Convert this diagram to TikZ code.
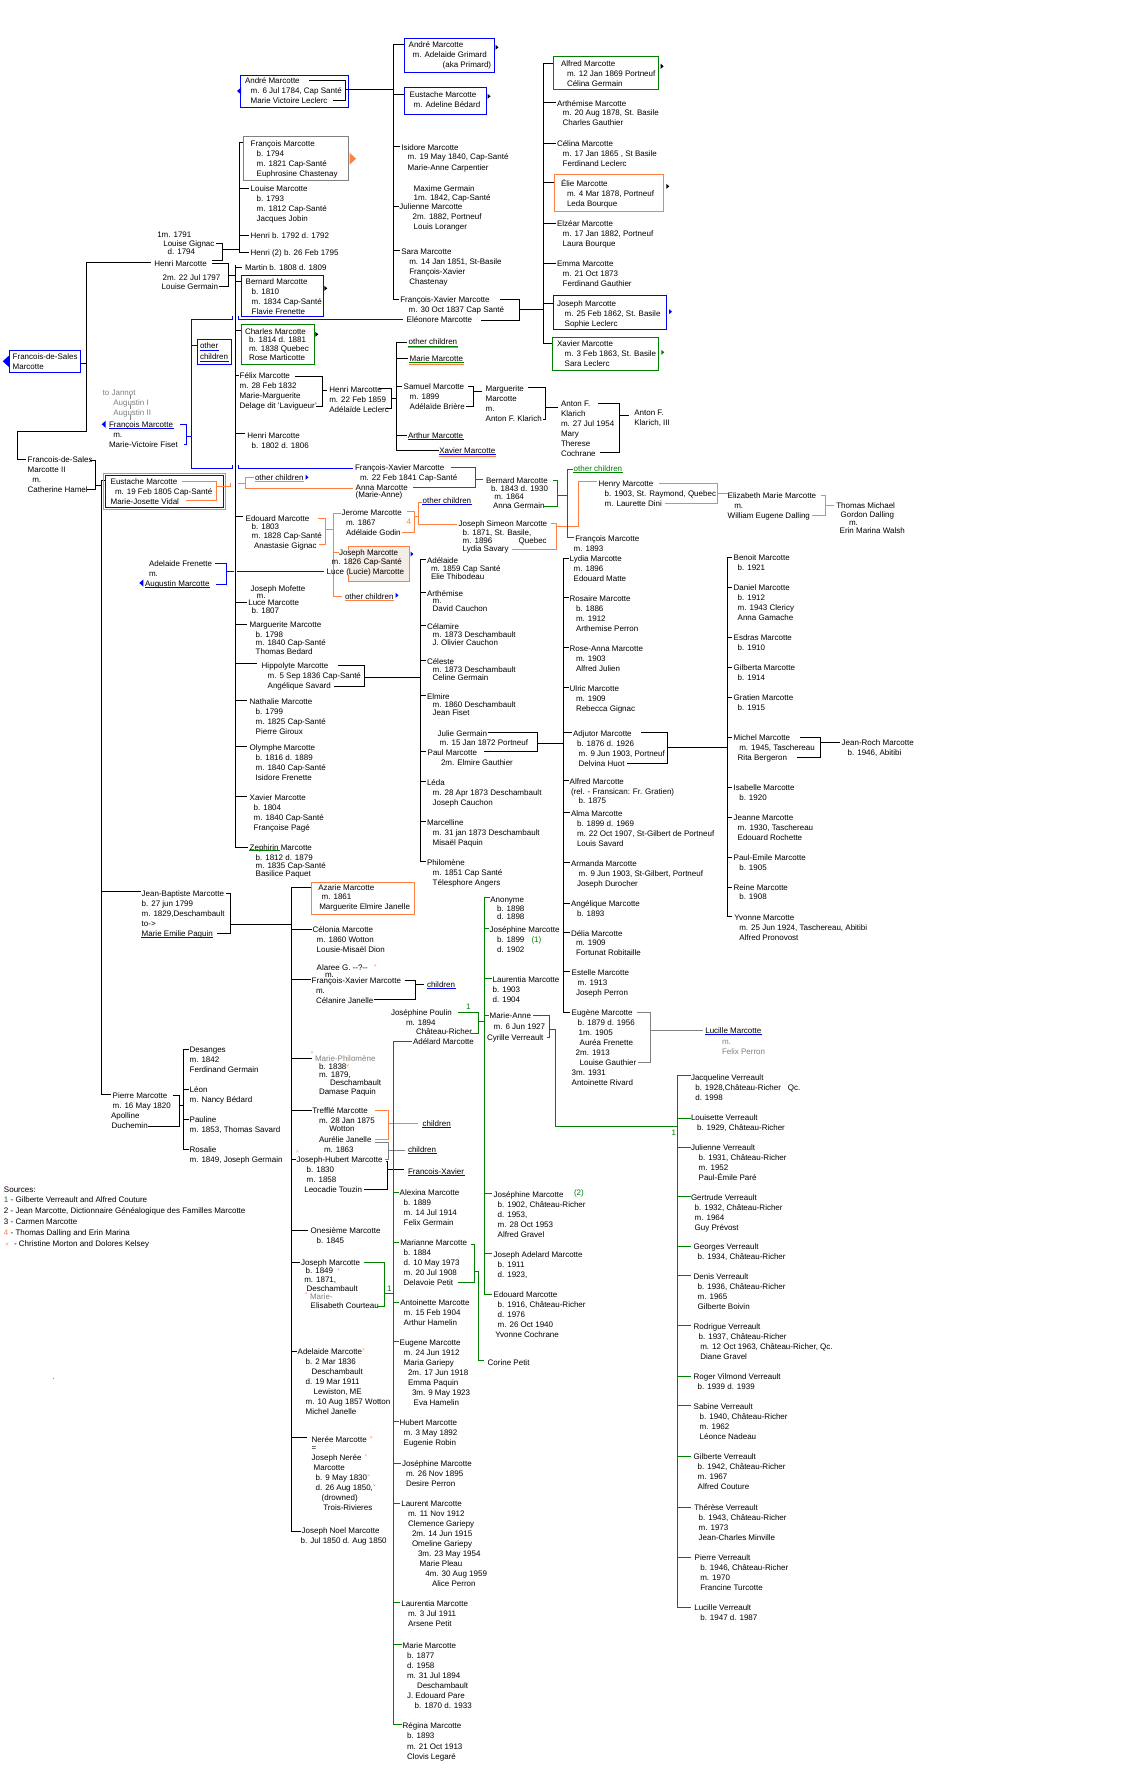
\documentclass[tikz,border=0pt]{standalone}
\usepackage{fontspec}
\setmainfont{Liberation Sans}
\definecolor{bl}{RGB}{0,0,255}
\definecolor{gr}{RGB}{0,128,0}
\definecolor{or}{RGB}{255,128,64}
\definecolor{gy}{RGB}{128,128,128}
\definecolor{bgc}{RGB}{244,236,230}
\newcommand\I[1]{\hspace*{#1pt}}
\newcommand\FS{\rule{0pt}{8pt}}
\newcommand\xx{\raisebox{2.5pt}{\fontsize{5}{5}\selectfont\color{or}×}}
\newcommand\ul[2][bl]{\draw[#1] ([yshift=-1.5pt]#2.base west) -- ([yshift=-1.5pt]#2.base east);}
\newcommand\ulb[2][or]{\draw[#1] ([yshift=-3pt]#2.base west) -- ([yshift=-3pt]#2.base east);}
\newcommand\ra[3][black]{\fill[#1] (#2,#3-2.5) -- (#2+3,#3) -- (#2,#3+2.5) -- cycle;}
\newcommand\la[3][bl]{\fill[#1] (#2,#3) -- (#2+4,#3-3.5) -- (#2+4,#3+3.5) -- cycle;}
\begin{document}
\begin{tikzpicture}[x=1pt,y=-1pt,line width=1pt,line cap=rect,
 t/.style={anchor=north west,inner sep=0pt,outer sep=0pt,align=left,font=\fontsize{8}{10}\selectfont,yshift=5pt,execute at begin node={\FS}},
 ls/.style={font=\fontsize{8}{#1}\selectfont}]
\fill[white] (0,0) rectangle (1146,1782);
\useasboundingbox (0,0) rectangle (1146,1782);

% ===== top: André and F-X
\draw[bl] (240,75.3) rectangle (348.3,107.3);
\node[t] (andreA) at (245,81) {\FS André Marcotte\\\I{5.7}m. 6 Jul 1784, Cap Santé\\\I{5.7}Marie Victoire Leclerc};
\draw (309,81) -- (345.7,81) -- (345.7,101) -- (333,101);
\draw (345.7,89.3) -- (393.7,89.3);
\la{237}{91}
\draw (393.7,45) -- (393.7,299);
\foreach \y/\e in {45/404.3,95/404.3,146/399,206/398,250/399,299/398} \draw (393.7,\y) -- (\e,\y);
\draw[bl] (404.3,38.3) rectangle (494.7,72.3);
\node[t] (andreB) at (408.7,45) {\FS André Marcotte\\\I{4}m.  Adelaide Grimard\\\I{34}(aka Primard)};
\ra{495.5}{47.3}
\draw[bl] (404.3,87.3) rectangle (486.3,114.3);
\node[t] (eustA) at (409.7,95) {\FS Eustache Marcotte\\\I{4}m. Adeline Bédard};
\ra{487.5}{96.3}
\node[t] (isid) at (401.3,147) {\FS Isidore Marcotte\\\I{6.4}m. 19 May 1840, Cap-Santé\\\I{6.4}Marie-Anne Carpentier};
\node[t] (jul) at (399.3,188) {\FS\I{14.4}Maxime Germain\\[-1pt]\I{14.4}1m. 1842, Cap-Santé\\[-1pt]Julienne Marcotte\\\I{13.4}2m. 1882, Portneuf\\\I{14.4}Louis Loranger};
\node[t] (sara) at (401.3,251) {\FS Sara Marcotte\\\I{8}m. 14 Jan 1851, St-Basile\\\I{8}François-Xavier\\\I{8}Chastenay};
\node[t] (fxe) at (400.3,299) {\FS François-Xavier Marcotte\\\I{8.4}m. 30 Oct 1837 Cap Santé\\\I{6.4}Eléonore Marcotte};
\draw (500.3,299) -- (519.3,299) -- (519.3,320.3) -- (481.3,320.3);
\draw (519.3,309) -- (543.3,309);
% children of FX and Eleonore
\draw (543.3,63.3) -- (543.3,343.3);
\foreach \y/\e in {63.3/553,102.7/555,143/555,182.3/554.3,223/555,263/555,303.3/553,343.3/552.3} \draw (543.3,\y) -- (\e,\y);
\draw[gr] (553,56.7) rectangle (658.7,89.3);
\node[t] (alfA) at (561,63.3) {\FS Alfred Marcotte\\\I{6}m. 12 Jan 1869 Portneuf\\\I{6}Célina Germain};
\ra{660.7}{66.3}
\node[t] (arthA) at (557,103) {\FS Arthémise Marcotte\\\I{5.7}m. 20 Aug 1878, St. Basile\\\I{5.7}Charles Gauthier};
\node[t] (celA) at (557,143) {\FS Célina Marcotte\\\I{5.7}m.  17 Jan 1865 , St Basile\\\I{5.7}Ferdinand Leclerc};
\draw[or] (554.3,174.3) rectangle (663.7,211.3);
\node[t] (elie) at (561,183) {\FS Élie Marcotte\\\I{6}m.  4 Mar 1878, Portneuf\\\I{6}Leda Bourque};
\ra{666.3}{186.3}
\node[t] (elz) at (557,223) {\FS Elzéar Marcotte\\\I{5.7}m. 17 Jan 1882, Portneuf\\\I{5.7}Laura Bourque};
\node[t] (emma) at (557,263) {\FS Emma Marcotte\\\I{5.7}m.  21 Oct 1873\\\I{5.7}Ferdinand Gauthier};
\draw[bl] (553,295.3) rectangle (666.3,329.3);
\node[t] (josA) at (557,303) {\FS Joseph Marcotte\\\I{7.7}m.  25 Feb 1862, St. Basile\\\I{7.7}Sophie Leclerc};
\ra[bl]{669}{311.7}
\draw[gr] (552.3,337.3) rectangle (658.7,370);
\node[t] (xavA) at (557,343) {\FS Xavier Marcotte\\\I{7.7}m. 3 Feb 1863, St. Basile\\\I{7.7}Sara Leclerc};
\ra[gr]{661.3}{352.3}

% ===== Henri Marcotte
\node[t] (gign) at (157.3,234) {\FS 1m. 1791\\[-0.7pt]\I{6}Louise Gignac\\[-2.3pt]\I{10.4}d. 1794};
\draw (216.7,243.3) -- (222.3,243.3) -- (222.3,260) -- (212.7,260);
\draw (222.3,249) -- (239.3,249);
\draw (239.3,142.7) -- (239.3,252.3);
\foreach \y/\e in {142.7/243.3,188.3/248,235/248,252.3/248} \draw (239.3,\y) -- (\e,\y);
\draw[gy] (243.3,136.3) rectangle (348.3,180.3);
\node[t] (franA) at (250.7,143.3) {\FS François Marcotte\\\I{6}b. 1794\\\I{6}m. 1821 Cap-Santé\\\I{6}Euphrosine Chastenay};
\fill[or] (349.5,152.7) -- (356,158.7) -- (349.5,164.7) -- cycle;
\node[t] (louA) at (250.7,188.3) {\FS Louise Marcotte\\\I{6}b. 1793\\\I{6}m. 1812 Cap-Santé\\\I{6}Jacques Jobin};
\node[t] (henA) at (250.7,235) {\FS Henri b. 1792 d. 1792};
\node[t] (henB) at (250.7,252) {\FS Henri (2)  b. 26 Feb 1795};
\node[t] (henri) at (154.3,263) {\FS Henri Marcotte};
\draw (86.7,262.7) -- (150.7,262.7);
\node[t] (germ) at (161.7,277) {\FS\I{1}2m. 22 Jul 1797\\[-0.7pt]Louise Germain};
\draw (212.7,263.3) -- (228.7,263.3) -- (228.7,286.3) -- (219,286.3);
\draw (228.7,275) -- (235.3,275);
% trunk of second marriage
\draw (235.3,265.7) -- (235.3,847.3);
\foreach \y/\e in {267.7/241,281/241.3,330.3/241,375/238,433.7/244,516.7/242,602/246,624/246,663.3/256.7,700.3/246,746/246,796/246,847.3/247} \draw (235.3,\y) -- (\e,\y);
\node[t] (mart) at (245,267.7) {\FS Martin  b. 1808  d. 1809};
\draw[bl] (241.3,275.3) rectangle (323.3,316.3);
\node[t] (bernA) at (245.7,281) {\FS Bernard Marcotte\\\I{6}b. 1810\\\I{6}m. 1834 Cap-Santé\\\I{6}Flavie Frenette};
\ra{324.3}{288.3}
\draw[gr] (241,324.3) rectangle (314.3,364.3);
\node[t,ls=8.7] (charl) at (245,331) {\FS Charles Marcotte\\\I{4}b. 1814  d. 1881\\\I{4}m. 1838 Quebec\\\I{4}Rose Marticotte};
\ra{315.3}{334.3}
\draw[bl] (197.7,339.3) rectangle (231.3,364.3);
\node[t] (oc1) at (200,345.7) {\FS other};
\node[t] (oc2) at (200,356.7) {\FS children};
\ul{oc1} \ul{oc2}
\node[t] (felix) at (239.7,375) {\FS Félix Marcotte\\m. 28 Feb 1832\\Marie-Marguerite\\Delage dit 'Lavigueur'};
\draw (295,376.3) -- (322.3,376.3) -- (322.3,406.7) -- (316.7,406.7);
\draw (322.3,390) -- (326.7,390);
\node[t] (henC) at (329.3,389) {\FS Henri Marcotte\\m. 22 Feb 1859\\Adélaïde Leclerc};
\draw (379,388.3) -- (391.3,388.3) -- (391.3,408.3) -- (386,408.3);
\node[t] (henD) at (247.3,435) {\FS Henri Marcotte\\\I{4.4}b. 1802  d. 1806};
% blue links
\draw[bl] (191,468.3) -- (191,319.3) -- (232.3,319.3) -- (232.3,316.7);
\draw[bl] (238.3,316.7) -- (238.3,319.3) -- (402,319.3);
\draw[bl] (191,468.3) -- (232,468.3) -- (232,465.7);
\draw[bl] (238.3,465.7) -- (238.3,468.3) -- (352.7,468.3);
\draw[bl] (191,345.7) -- (197.7,345.7);
\draw[bl] (186.7,436) -- (191,436);
% Francois-de-Sales
\draw[bl] (9.3,350.7) rectangle (80.7,372.3);
\node[t] (fds) at (12.7,356) {\FS Francois-de-Sales\\Marcotte};
\fill[bl] (2.7,361.3) -- (9.3,355.3) -- (9.3,367.3) -- cycle;
\draw (80.7,363.3) -- (86.7,363.3);
\draw (86.7,262.7) -- (86.7,431.7) -- (17.3,431.7) -- (17.3,459) -- (25,459);
\node[t,text=gy] (jan) at (102.7,392.3) {\FS to Jannot\\\I{10.6}Augustin I\\\I{10.6}Augustin II};
\draw[gy] (130,395.5) -- (130,398.5); \draw[gy] (130,405.5) -- (130,408.5); \draw[gy] (130,415.5) -- (130,419.5);
\node[t] (franB) at (109,424.3) {\FS François Marcotte};
\ul{franB}
\la{101.7}{424.3}
\node[t] (fiset) at (109,434.3) {\FS\I{4.3}m.\\[-0.3pt]Marie-Victoire Fiset};
\draw[bl] (180,424.3) -- (186.7,424.3) -- (186.7,444.3) -- (184.3,444.3);

% ===== Henri & Adelaide Leclerc children
\draw (396.3,342.3) -- (396.3,450);
\foreach \y/\e in {342.3/406,358.7/407,386/401,435/406,450/438} \draw (396.3,\y) -- (\e,\y);
\draw (391.3,398.3) -- (396.3,398.3);
\node[t] (ocA) at (408.7,341.7) {\FS other children};
\ul[gr]{ocA} \ulb{ocA}
\node[t] (marA) at (409.7,358.3) {\FS Marie Marcotte};
\ul[gr]{marA} \ulb{marA}
\node[t] (sam) at (403.7,386) {\FS Samuel Marcotte\\\I{6}m. 1899\\\I{6}Adélaïde Brière};
\draw (468,386) -- (473.7,386) -- (473.7,406.7) -- (466,406.7);
\draw (473.7,391) -- (481,391);
\node[t] (margA) at (485.7,388) {\FS Marguerite\\Marcotte\\m.\\Anton F. Klarich};
\draw (528.7,387.3) -- (545.3,387.3) -- (545.3,419.3) -- (543.3,419.3);
\draw (545.3,407.3) -- (557,407.3);
\node[t] (antA) at (561,403) {\FS Anton F.\\Klarich\\m. 27 Jul 1954\\Mary\\Therese\\Cochrane};
\draw (598,403.3) -- (619.7,403.3) -- (619.7,452.3) -- (600.3,452.3);
\draw (619.7,415.3) -- (628,415.3);
\node[t] (antB) at (634.3,412.3) {\FS Anton F.\\Klarich, III};
\node[t] (arth) at (408,435) {\FS Arthur Marcotte};
\ul{arth}
\node[t] (xavB) at (439.3,450) {\FS Xavier Marcotte};
\ul{xavB} \ulb{xavB}

% ===== Francois-de-Sales II
\node[t] (fds2) at (27.7,459) {\FS Francois-de-Sales\\Marcotte II\\\I{4.6}m.\\Catherine Hamel};
\draw (90.7,460) -- (95.7,460) -- (95.7,489) -- (87.3,489);
\draw (95.7,485) -- (101,485);
\draw (101,480) -- (101,1094);
\foreach \y/\e in {480/105.3,891.7/140,1094/110} \draw (101,\y) -- (\e,\y);
\draw[or] (103.3,473.3) rectangle (225.7,509.3);
\draw[bl] (105.3,475.3) rectangle (223.7,507.3);
\node[t] (eustB) at (110.7,481) {\FS Eustache Marcotte\\\I{4.3}m. 19 Feb 1805 Cap-Santé\\Marie-Josette Vidal};
\draw[or] (182.3,481) -- (216.7,481) -- (216.7,500) -- (186,500);
\draw[or] (216.7,486.3) -- (230,486.3) -- (230,483.7);
\draw[or] (238,483.7) -- (245.7,483.7);
\draw[or] (253,477.3) -- (245.7,477.3) -- (245.7,488) -- (352.7,488);
\node[t] (ocB) at (255,477.3) {\FS other children};
\ul[or]{ocB}
\ra[bl]{305.5}{477.3}
\node[t] (fxa) at (355,467.3) {\FS François-Xavier Marcotte\\\I{5}m. 22 Feb 1841 Cap-Santé\\\I{0.7}Anna Marcotte\\[-3pt]\I{0.7}(Marie-Anne)};
\draw[gr] (451.3,467.3) -- (475.3,467.3) -- (475.3,487.3) -- (413,487.3);
\draw[gr] (475.3,479.7) -- (482,479.7);
\node[t,ls=8.4] (bernB) at (486,480) {\FS Bernard Marcotte\\\I{5}b. 1843 d. 1930\\\I{8.3}m.  1864\\\I{7}Anna Germain};
\draw[gr] (553,480) -- (557.7,480) -- (557.7,506.3) -- (543,506.3);
\draw[gr] (557.7,495.3) -- (567.3,495.3);
\draw[gr] (572,469) -- (567.3,469) -- (567.3,537.3) -- (573,537.3);
\node[t,text=gr] (ocC) at (573.7,468.3) {\FS other children};
\ul[gr]{ocC}
\node[t] (franC) at (573.7,538) {\FS\I{1.6}François Marcotte\\m. 1893};
% Edouard
\node[t,ls=8.6] (edA) at (245.7,518.3) {\FS Edouard Marcotte\\\I{6}b. 1803\\\I{6}m. 1828 Cap-Santé\\[1pt]\I{8.3}Anastasie Gignac};
\draw[or] (318.3,518.3) -- (325,518.3) -- (325,544) -- (319.3,544);
\draw[or] (325,529.3) -- (333.3,529.3);
\draw[or] (333.3,513.3) -- (333.3,596);
\foreach \y/\e in {513.3/340,552/338,596/341.7} \draw[or] (333.3,\y) -- (\e,\y);
\node[t] (jer) at (341.7,512) {\FS Jerome Marcotte\\\I{4.3}m. 1867\\\I{4.3}Adélaide Godin};
\draw[or] (407,511.7) -- (414.7,511.7) -- (414.7,532.3) -- (402.7,532.3);
\node[t,text=or] (four) at (406.5,521) {\FS 4};
\draw[or] (414.7,516) -- (418,516);
\draw[or] (421,502.3) -- (418,502.3) -- (418,524.3) -- (456,524.3);
\node[t] (ocD) at (422.7,500.3) {\FS other children};
\ul{ocD}
\node[t] (jsim) at (458.7,523.3) {\FS Joseph Simeon Marcotte\\[-1pt]\I{4}b. 1871, St. Basile,\\[-2pt]\I{4}\makebox[56pt][l]{m. 1896}Quebec\\[-1.7pt]\I{4}Lydia Savary};
\draw[or] (551.3,523.3) -- (556.3,523.3) -- (556.3,549.3) -- (512,549.3);
\draw[or] (556.3,526.3) -- (578,526.3) -- (578,481.7) -- (596,481.7);
\draw[gr] (567.3,520) -- (567.3,530);
\node[t] (henry) at (598.7,483.3) {\FS Henry Marcotte\\\I{6}b. 1903, St. Raymond, Quebec\\\I{6}m.  Laurette Dini};
\draw[or] (659.3,483.3) -- (717.7,483.3) -- (717.7,503.3) -- (665.3,503.3);
\draw[or] (717.7,493.3) -- (727,493.3);
\node[t] (eliz) at (727.7,495) {\FS Elizabeth Marie Marcotte\\[0.7pt]\I{6.6}m.\\[-0.7pt]William Eugene Dalling};
\draw[or] (821.3,495.7) -- (825.7,495.7) -- (825.7,515.3) -- (812.3,515.3);
\draw[or] (825.7,505) -- (833,505);
\node[t] (thom) at (836.3,505) {\FS Thomas Michael\\[-0.7pt]\I{4.4}Gordon Dalling\\[-2pt]\I{12.7}m.\\[-2.3pt]\I{3.4}Erin Marina Walsh};
% Joseph box
\fill[bgc] (348.3,546.3) rectangle (409.3,581);
\draw[or] (348.3,549.5) -- (348.3,546.3) -- (409.3,546.3) -- (409.3,581) -- (348.3,581) -- (348.3,576);
\node[t] (josB) at (326.7,552) {\FS\I{12.3}Joseph Marcotte\\[-0.3pt]\I{5}m. 1826 Cap-Santé\\[-0.7pt]Luce (Lucie) Marcotte};
\ra[bl]{410.5}{554}
\node[t] (ocE) at (345,596) {\FS other children};
\ul[or]{ocE}
\ra[bl]{395.5}{595.3}
% Adelaide Frenette
\node[t] (afr) at (145,563) {\FS\I{4}Adelaide Frenette\\\I{4}m.};
\node[t] (aug) at (145,583) {\FS Augustin Marcotte};
\ul{aug}
\la{139.3}{583}
\draw[bl] (215,563) -- (226.7,563) -- (226.7,584.3) -- (216,584.3);
\draw[bl] (226.7,571) -- (233,571);
\draw[bl] (237.5,571) -- (323.3,571);
% more children on trunk 235.3
\node[t] (mof) at (248.3,588.3) {\FS\I{2.4}Joseph Mofette\\[-2.6pt]\I{8.4}m.\\[-3.7pt]Luce Marcotte\\[-2pt]\I{3.4}b. 1807};
\node[t] (margB) at (249.7,624) {\FS Marguerite Marcotte\\\I{6}b. 1798\\[-2pt]\I{6}m. 1840 Cap-Santé\\[-0.7pt]\I{6}Thomas Bedard};
\node[t] (hipp) at (261.7,665.3) {\FS Hippolyte Marcotte\\\I{6}m. 5 Sep 1836 Cap-Santé\\\I{6}Angélique Savard};
\draw (338.3,665.3) -- (364.3,665.3) -- (364.3,686) -- (334.3,686);
\draw (364.3,677.3) -- (420.3,677.3);
\node[t] (nath) at (249.7,701) {\FS Nathalie Marcotte\\\I{6}b. 1799\\\I{6}m. 1825 Cap-Santé\\\I{6}Pierre Giroux};
\node[t] (olym) at (249.7,747) {\FS Olymphe Marcotte\\\I{6}b. 1816  d. 1889\\\I{6}m. 1840 Cap-Santé\\\I{6}Isidore Frenette};
\node[t] (xavC) at (249.7,797) {\FS Xavier  Marcotte\\\I{4}b. 1804\\\I{4}m. 1840 Cap-Santé\\\I{4}Françoise Pagé};
\node[t] (zeph) at (249.7,847.3) {\FS Zephirin Marcotte\\\I{6}b. 1812  d. 1879\\[-2pt]\I{6}m. 1835 Cap-Santé\\[-2pt]\I{6}Basilice Paquet};
\draw[gr] (249.7,850.8) -- (279.5,850.8);

% ===== Hippolyte children
\draw (420.3,559.3) -- (420.3,861.7);
\foreach \y in {559.3,592.7,625.7,660.7,695.7,751,781.7,821.7,861.7} \draw (420.3,\y) -- (425,\y);
\node[t,ls=8] (adel) at (427,560) {\FS Adélaide\\\I{4}m. 1859 Cap Santé\\\I{4}Elie Thibodeau};
\node[t] (arthB) at (427,593) {\FS Arthémise\\[-2.7pt]\I{5.7}m.\\[-2.3pt]\I{5.7}David Cauchon};
\node[t,ls=8] (celam) at (427,626) {\FS Célamire\\\I{5.7}m. 1873 Deschambault\\\I{5.7}J. Olivier Cauchon};
\node[t,ls=8] (celes) at (427,661) {\FS Céleste\\\I{5.7}m. 1873 Deschambault\\\I{5.7}Celine Germain};
\node[t,ls=8] (elm) at (427,696) {\FS Elmire\\\I{5.7}m. 1860 Deschambault\\\I{5.7}Jean Fiset};
\node[t] (paul) at (427.7,733) {\FS\I{10}Julie Germain\\[-1pt]\I{12}m. 15 Jan 1872 Portneuf\\Paul Marcotte\\\I{13.3}2m. Elmire Gauthier};
\draw (488,732.3) -- (537.3,732.3) -- (537.3,751) -- (484.7,751);
\draw (537.3,743.3) -- (563.7,743.3);
\node[t] (leda) at (427,782) {\FS Léda\\\I{5.7}m. 28 Apr 1873 Deschambault\\\I{5.7}Joseph Cauchon};
\node[t] (marc) at (427,822) {\FS Marcelline\\\I{5.7}m. 31 jan 1873 Deschambault\\\I{5.7}Misaël Paquin};
\node[t] (phil) at (427,862) {\FS Philomène\\\I{5.7}m. 1851 Cap Santé\\\I{5.7}Télesphore Angers};

% ===== Paul's children
\draw (563.7,558) -- (563.7,1012);
\foreach \y/\e in {558/568,597.7/568,647.7/568,687.7/568,732.3/571,780.3/568,812.3/569,862.3/569,903.3/569,932.3/569,971.3/569,1012/569} \draw (563.7,\y) -- (\e,\y);
\node[t] (lyd) at (569.7,558) {\FS Lydia Marcotte\\\I{4}m. 1896\\\I{4}Edouard Matte};
\node[t] (ros) at (569.7,598) {\FS Rosaire Marcotte\\\I{6.3}b. 1886\\\I{6.3}m. 1912\\\I{6.3}Arthemise Perron};
\node[t] (rosa) at (569.7,648) {\FS Rose-Anna Marcotte\\\I{6.3}m. 1903\\\I{6.3}Alfred Julien};
\node[t] (ulr) at (569.7,688) {\FS Ulric Marcotte\\\I{6.3}m. 1909\\\I{6.3}Rebecca Gignac};
\node[t] (adj) at (573,733) {\FS Adjutor Marcotte\\\I{4}b. 1876  d. 1926\\\I{5.7}m. 9 Jun 1903, Portneuf\\\I{5.7}Delvina Huot};
\draw (641.3,732.3) -- (667.3,732.3) -- (667.3,763.3) -- (627.3,763.3);
\draw (667.3,747.3) -- (727.7,747.3);
\node[t] (alfB) at (569.7,781) {\FS Alfred Marcotte\\\I{1.3}(rel. - Fransican: Fr. Gratien)\\[-1pt]\I{9}b. 1875};
\node[t] (alma) at (571,813) {\FS Alma Marcotte\\\I{6}b. 1899 d. 1969\\\I{6}m. 22 Oct 1907, St-Gilbert de Portneuf\\\I{6}Louis Savard};
\node[t] (arma) at (571,863) {\FS Armanda  Marcotte\\\I{7.7}m. 9 Jun 1903, St-Gilbert, Portneuf\\\I{6}Joseph Durocher};
\node[t] (ang) at (571,903.3) {\FS Angélique Marcotte\\\I{6}b. 1893};
\node[t] (delia) at (571,933) {\FS Délia  Marcotte\\[-1pt]\I{5}m. 1909\\\I{5}Fortunat Robitaille};
\node[t] (est) at (571.7,972) {\FS Estelle Marcotte\\\I{6}m. 1913\\\I{4.3}Joseph Perron};
\node[t] (eug) at (571.7,1012) {\FS Eugène Marcotte\\\I{6}b. 1879  d. 1956\\\I{7}1m. 1905\\\I{8}Auréa Frenette\\\I{4}2m. 1913\\\I{8}Louise Gauthier\\3m. 1931\\Antoinette Rivard};
\draw[gy] (637,1012.3) -- (650.3,1012.3) -- (650.3,1062.3) -- (638.7,1062.3);
\draw[gy] (650.3,1030.3) -- (702,1030.3);
\node[t] (lucA) at (705.3,1030) {\FS Lucille Marcotte};
\ul{lucA}
\node[t,text=gy] (perr) at (722,1041.7) {\FS m.\\[-0.7pt]Felix Perron};

% ===== Adjutor's children
\draw (727.7,557.3) -- (727.7,916.7);
\foreach \y in {557.3,587.3,637.3,667.3,697.3,737.3,787.3,817.3,857.3,887.3,916.7} \draw (727.7,\y) -- (731,\y);
\node[t] (ben) at (733.7,557.3) {\FS Benoit Marcotte\\\I{4}b. 1921};
\node[t] (dan) at (733.7,587.3) {\FS Daniel Marcotte\\\I{4}b. 1912\\\I{4}m. 1943 Clericy\\\I{4}Anna Gamache};
\node[t] (esd) at (733.7,637.3) {\FS Esdras Marcotte\\\I{4}b. 1910};
\node[t] (gilA) at (733.7,667.3) {\FS Gilberta Marcotte\\\I{4}b. 1914};
\node[t] (grat) at (733.7,697.3) {\FS Gratien Marcotte\\\I{4}b. 1915};
\node[t] (mich) at (733.7,737.3) {\FS Michel Marcotte\\\I{5.6}m. 1945, Taschereau\\\I{4}Rita Bergeron};
\draw (800,737.3) -- (820.7,737.3) -- (820.7,757.3) -- (797.3,757.3);
\draw (820.7,742) -- (839,742);
\node[t] (jroch) at (841.7,742) {\FS Jean-Roch Marcotte\\\I{6}b. 1946, Abitibi};
\node[t] (isab) at (733.7,787.3) {\FS Isabelle  Marcotte\\\I{5.6}b. 1920};
\node[t] (jean) at (733.7,817.3) {\FS Jeanne Marcotte\\\I{4}m. 1930, Taschereau\\\I{4}Edouard Rochette};
\node[t] (pem) at (733.7,857.3) {\FS Paul-Emile Marcotte\\\I{5.6}b. 1905};
\node[t] (rei) at (733.7,887.3) {\FS Reine Marcotte\\[-0.6pt]\I{5.6}b. 1908};
\node[t] (yvo) at (734.3,917.3) {\FS Yvonne  Marcotte\\\I{5}m. 25 Jun 1924, Taschereau, Abitibi\\\I{5}Alfred Pronovost};

% ===== Jean-Baptiste and Pierre
\node[t] (jb) at (141.7,893.3) {\FS Jean-Baptiste Marcotte\\b. 27 jun 1799\\m. 1829,Deschambault\\to->};
\node[t] (mep) at (141.7,933.3) {\FS Marie Emilie Paquin};
\ul{mep}
\draw (226.7,893.3) -- (230.3,893.3) -- (230.3,933.3) -- (217.3,933.3);
\draw (230.3,924.3) -- (291.7,924.3);
\node[t] (pier) at (111,1095) {\FS\I{1.7}Pierre Marcotte\\\I{1.7}m. 16 May 1820\\Apolline\\\I{0.7}Duchemin};
\draw (173.3,1095.7) -- (179.3,1095.7) -- (179.3,1126) -- (148.3,1126);
\draw (179.3,1105.3) -- (183.3,1105.3);
\draw (183.3,1049.3) -- (183.3,1149);
\foreach \y in {1049.3,1089,1119,1149} \draw (183.3,\y) -- (188,\y);
\node[t] (desa) at (189.7,1049.3) {\FS Desanges\\[-0.3pt]m. 1842\\Ferdinand Germain};
\node[t] (leon) at (189.7,1089) {\FS Léon\\m.  Nancy Bédard};
\node[t] (paulA) at (189.7,1119) {\FS Pauline\\m.  1853, Thomas Savard};
\node[t] (rosal) at (189.7,1149) {\FS Rosalie\\m.  1849, Joseph Germain};
\node[t,ls=10.8] (src) at (4,1189) {\FS Sources:\\{\color{gr}1} -  Gilberte Verreault  and Alfred Couture\\2 -  Jean Marcotte, Dictionnaire Généalogique des Familles Marcotte\\3 - Carmen Marcotte\\{\color{or}4} - Thomas Dalling and Erin Marina\\\I{1.5}{\fontsize{6}{6}\selectfont\color{or}×}\I{5}- Christine Morton and Dolores Kelsey};
\fill (53.3,1378.3) circle (0.4);

% ===== Jean-Baptiste's children
\draw (291.7,887.3) -- (291.7,1531);
\foreach \y/\e in {887.3/311,929/311,979.3/310,1058.3/311,1110/311,1159.3/295,1230/307,1262/299,1351/296,1437.3/306.7,1531/300} \draw (291.7,\y) -- (\e,\y);
\draw[or] (311,882.3) rectangle (414.3,914);
\node[t] (aza) at (318.3,887.3) {\FS Azarie Marcotte\\[-0.6pt]\I{3.4}m. 1861\\[-0.7pt]\I{1}Marguerite Elmire Janelle};
\node[t] (celo) at (312.7,929) {\FS Célonia Marcotte\\\I{4}m. 1860 Wotton\\\I{4}Lousie-Misaël Dion};
\node[t] (fxb) at (311.7,967) {\FS\I{5}Alaree G. -{}-?-{}-\I{6}\xx\\[-3pt]\I{13.3}m.\\[-4pt]François-Xavier Marcotte\\\I{4.3}m.\\\I{4.3}Célanire Janelle};
\draw (405,980) -- (415.3,980) -- (415.3,999) -- (374,999);
\draw (415.3,984.3) -- (423.7,984.3);
\node[t] (chA) at (427,984.3) {\FS children};
\ul{chA}
\node[t] (mphx) at (310.5,1054) {\FS\xx};
\node[t] (mph) at (315,1058) {\FS{\color{gy}Marie-Philomène}\\[-1.3pt]\I{4}b.  1838\xx\\[-2.7pt]\I{4}m. 1879,\\[-1.3pt]\I{15}Deschambault\\[-1.7pt]\I{4}Damase Paquin};
\node[t] (tref) at (312.3,1110) {\FS Trefflé Marcotte\\\I{6.7}m. 28 Jan 1875\\[-2pt]\I{17}Wotton\\[1pt]\I{6.7}Aurélie  Janelle\\\I{11.7}m. 1863};
\draw[or] (375,1110) -- (388,1110) -- (388,1139) -- (375,1139);
\draw[or] (388,1123.3) -- (417,1123.3);
\node[t] (chB) at (422.7,1123.3) {\FS children};
\ul{chB}
\draw[gy] (375,1142.3) -- (388.7,1142.3) -- (388.7,1159.3) -- (385.5,1159.3);
\draw[gy] (388.7,1150) -- (404.7,1150);
\node[t] (chC) at (408,1149.3) {\FS children};
\ul{chC}
\node[t] (jhx) at (296,1153) {\FS\xx};
\node[t] (jhub) at (296.7,1159.3) {\FS Joseph-Hubert Marcotte\\\I{10}b. 1830\\\I{10}m. 1858\\\I{7.6}Leocadie Touzin};
\draw (386,1161) -- (387,1161) -- (387,1189.3) -- (364,1189.3);
\draw (387,1169.3) -- (403.7,1169.3);
\node[t] (fxc) at (408,1171) {\FS Francois-Xavier};
\ul{fxc}
\node[t] (ones) at (310.7,1230) {\FS Onesième Marcotte\\\I{6}b. 1845};
\node[t] (mex) at (304.5,1295) {\FS\xx};
\node[t,ls=8.7] (josC) at (301,1262) {\FS Joseph Marcotte\\\I{4.7}b. 1849\I{4}\xx\\\I{3.3}m. 1871,\\\I{5.7}Deschambault\\\I{9}{\color{gy}Marie-}\\\I{9.7}Elisabeth Courteau};
\draw[gr] (364.3,1262.3) -- (384.7,1262.3) -- (384.7,1306) -- (378.3,1306);
\draw[gr] (384.7,1293.3) -- (393.7,1293.3);
\node[t,text=gr] (one1) at (387,1288) {\FS 1};
\node[t] (adelB) at (297.7,1351) {\FS Adelaide Marcotte\xx\\\I{8}b. 2 Mar 1836\\\I{14}Deschambault\\\I{8}d. 19 Mar 1911\\\I{16}Lewiston, ME\\\I{8}m. 10 Aug 1857 Wotton\\\I{8}Michel Janelle};
\node[t] (ner) at (311.7,1439) {\FS Nerée Marcotte\I{3}\xx\\[-1.7pt]=\\[-0.3pt]Joseph Nerée\I{3}\xx\\\I{2}Marcotte\\\I{4}b. 9 May 1830\xx\\\I{4}d. 26 Aug 1850,\xx\\\I{10}(drowned)\\\I{11.6}Trois-Rivieres};
\node[t] (noel) at (300.7,1530) {\FS\I{1}Joseph Noel Marcotte\\b. Jul 1850 d. Aug 1850};

% ===== Adelard
\node[t] (poul) at (391,1012) {\FS Joséphine Poulin\\\I{15}m. 1894\\[-1pt]\I{25}Château-Richer};
\node[t] (adelard) at (413,1041) {\FS Adélard Marcotte};
\node[t,text=gr] (one2) at (466,1006) {\FS 1};
\draw[gr] (458,1012.3) -- (478.7,1012.3) -- (478.7,1033.3) -- (471.3,1033.3);
\draw[gr] (478.7,1021.7) -- (484.3,1021.7);
\draw[gr] (484.3,897.3) -- (484.3,1294);
\foreach \y/\e in {897.3/489,928.7/488,978.7/491,1015.3/488,1193.7/491,1253.7/491,1294/491} \draw[gr] (484.3,\y) -- (\e,\y);
\node[t] (anon) at (490.3,899) {\FS Anonyme\\[-1pt]\I{6.7}b. 1898\\[-2pt]\I{6.7}d. 1898};
\node[t] (josfA) at (489.7,929) {\FS Joséphine Marcotte\\\I{7.3}b. 1899\\\I{7.3}d. 1902};
\node[t,text=gr] (p1) at (531.5,939.7) {\FS (1)};
\node[t] (lauA) at (492.7,979) {\FS Laurentia Marcotte\\b. 1903\\d. 1904};
\node[t] (mann) at (487,1015.3) {\FS\I{2.7}Marie-Anne\\[0.7pt]\I{6.7}m. 6 Jun 1927\\[1pt]Cyrille Verreault};
\draw[gr] (533.7,1015.3) -- (549.3,1015.3) -- (549.3,1037) -- (547,1037);
\draw[gr] (549.3,1029.3) -- (555.3,1029.3) -- (555.3,1126) -- (677.7,1126);
\node[t,text=gr] (one3) at (671.5,1132.7) {\FS 1};
\node[t] (josfB) at (493.7,1194) {\FS Joséphine Marcotte\\\I{4}b. 1902, Château-Richer\\\I{4}d. 1953,\\\I{4}m. 28 Oct 1953\\\I{4}Alfred Gravel};
\node[t,text=gr] (p2) at (574,1192.7) {\FS (2)};
\node[t] (jad) at (493.7,1254) {\FS Joseph Adelard Marcotte\\\I{4}b. 1911\\\I{4}d. 1923,};
\node[t] (edB) at (493.7,1294) {\FS Edouard Marcotte\\\I{4}b. 1916, Château-Richer\\\I{4}d. 1976\\\I{4}m. 26 Oct 1940\\\I{1.6}Yvonne Cochrane};

% ===== Joseph & Marie-Elisabeth children (green)
\draw[gr] (393.7,1041) -- (393.7,1724);
\foreach \y/\e in {1041/411,1192/398,1242/398.5,1302/398.5,1341.7/398,1421.7/398,1463/400,1503/399.5,1602.7/399.5,1644.7/401,1724/401} \draw[gr] (393.7,\y) -- (\e,\y);
\node[t] (alex) at (399.7,1192) {\FS Alexina Marcotte\\\I{4}b. 1889\\\I{4}m. 14 Jul 1914\\\I{4}Felix Germain};
\node[t] (mari) at (400.3,1242) {\FS Marianne Marcotte\\\I{3.4}b. 1884\\\I{3.4}d. 10 May 1973\\\I{3.4}m. 20 Jul 1908\\\I{3.4}Delavoie Petit};
\draw[gr] (471.3,1244) -- (474.3,1244) -- (474.3,1282.3) -- (458,1282.3);
\draw[gr] (474.3,1271) -- (478.7,1271) -- (478.7,1360) -- (483.7,1360);
\node[t] (cori) at (487.7,1362) {\FS Corine Petit};
\node[t] (anto) at (400.3,1302) {\FS Antoinette Marcotte\\\I{3.4}m. 15 Feb 1904\\\I{3.4}Arthur Hamelin};
\node[t] (eugB) at (399.7,1342) {\FS Eugene Marcotte\\\I{4}m. 24 Jun 1912\\\I{4}Maria Gariepy\\\I{8.3}2m. 17 Jun 1918\\\I{8.3}Emma Paquin\\\I{12.3}3m. 9 May 1923\\\I{14}Eva Hamelin};
\node[t] (hub) at (399.7,1422) {\FS Hubert Marcotte\\\I{4}m. 3 May 1892\\\I{4}Eugenie Robin};
\node[t] (josfC) at (402,1463) {\FS Joséphine Marcotte\\\I{4}m. 26 Nov 1895\\\I{4}Desire Perron};
\node[t] (laur) at (401.3,1503) {\FS Laurent Marcotte\\\I{6.7}m. 11 Nov 1912\\\I{6.7}Clemence Gariepy\\\I{10.7}2m. 14 Jun 1915\\\I{10.7}Omeline Gariepy\\\I{16.7}3m. 23 May 1954\\\I{18.4}Marie Pleau\\\I{24}4m. 30 Aug 1959\\\I{30.7}Alice Perron};
\node[t] (lauB) at (401.3,1603) {\FS Laurentia Marcotte\\\I{6.7}m. 3 Jul 1911\\\I{6.7}Arsene Petit};
\node[t] (marB) at (402.7,1645) {\FS Marie Marcotte\\\I{4.3}b. 1877\\\I{4.3}d. 1958\\\I{4.3}m. 31 Jul 1894\\\I{14.3}Deschambault\\\I{4.3}J. Edouard Pare\\\I{12}b. 1870  d. 1933};
\node[t] (reg) at (402.7,1725) {\FS Régina Marcotte\\\I{4.3}b. 1893\\[1pt]\I{4.3}m. 21 Oct 1913\\\I{4.3}Clovis Legaré};

% ===== Verreault
\draw[gr] (677.7,1075.7) -- (677.7,1607.3);
\foreach \y in {1075.7,1118.3,1147,1196,1246.3,1275.3,1325.3,1376,1405.3,1456,1507.3,1557,1607.3} \draw[gr] (677.7,\y) -- (690,\y);
\node[t] (v1) at (691,1077) {\FS Jacqueline Verreault\\\I{4.3}b. 1928,Château-Richer\I{7}Qc.\\\I{4.3}d. 1998};
\node[t] (v2) at (691,1117) {\FS Louisette Verreault\\\I{6}b. 1929, Château-Richer};
\node[t] (v3) at (691,1147) {\FS Julienne Verreault\\\I{7.7}b. 1931, Château-Richer\\\I{7.7}m. 1952\\\I{7.7}Paul-Émile Paré};
\node[t] (v4) at (691,1197) {\FS Gertrude Verreault\\\I{3.7}b. 1932, Château-Richer\\\I{3.7}m. 1964\\\I{3.7}Guy Prévost};
\node[t] (v5) at (693.7,1246) {\FS Georges Verreault\\\I{4}b. 1934,  Château-Richer};
\node[t] (v6) at (693.7,1276) {\FS Denis Verreault\\\I{4}b. 1936, Château-Richer\\\I{4}m. 1965\\\I{4}Gilberte Boivin};
\node[t] (v7) at (693.7,1326) {\FS Rodrigue Verreault\\\I{5}b. 1937, Château-Richer\\\I{6.6}m. 12 Oct 1963, Château-Richer, Qc.\\\I{6.6}Diane Gravel};
\node[t] (v8) at (693.7,1376) {\FS Roger Vilmond Verreault\\\I{4}b. 1939   d. 1939};
\node[t] (v9) at (693.7,1406) {\FS Sabine Verreault\\\I{6}b. 1940, Château-Richer\\\I{6}m. 1962\\\I{6}Léonce Nadeau};
\node[t] (v10) at (693.7,1456) {\FS Gilberte Verreault\\\I{4}b. 1942, Château-Richer\\\I{4}m. 1967\\\I{4}Alfred Couture};
\node[t] (v11) at (694.3,1507) {\FS Thérèse Verreault\\\I{4.4}b. 1943, Château-Richer\\\I{4.4}m. 1973\\\I{4.4}Jean-Charles Minville};
\node[t] (v12) at (694.7,1557) {\FS Pierre Verreault\\\I{5.6}b. 1946, Château-Richer\\\I{5.6}m. 1970\\\I{5.6}Francine Turcotte};
\node[t] (v13) at (694.3,1607) {\FS Lucille Verreault\\\I{6}b. 1947   d. 1987};
\end{tikzpicture}
\end{document}
